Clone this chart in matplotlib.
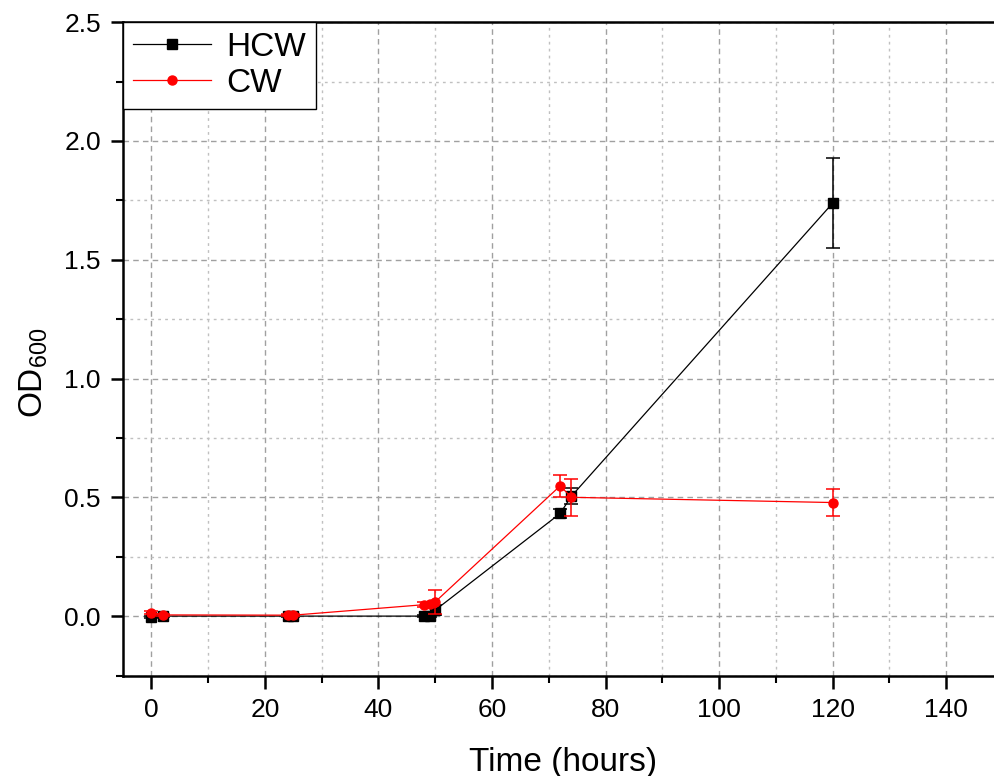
import numpy as np
import matplotlib.pyplot as plt
from matplotlib.ticker import MultipleLocator
from matplotlib.lines import Line2D

plt.rcParams['font.family'] = ['Liberation Sans', 'DejaVu Sans']
plt.rcParams['mathtext.default'] = 'regular'

# dados
t_hcw = [0, 2, 24, 25, 48, 49, 50, 72, 74, 120]
od_hcw = [-0.005, 0.0, 0.0, 0.0, 0.0, 0.0, 0.025, 0.432, 0.505, 1.738]
err_hcw = [0.005, 0.005, 0.005, 0.005, 0.005, 0.005, 0.02, 0.02, 0.035, 0.19]

t_cw = [0, 2, 24, 25, 48, 49, 50, 72, 74, 120]
od_cw = [0.015, 0.005, 0.004, 0.004, 0.048, 0.05, 0.06, 0.548, 0.500, 0.478]
err_cw = [0.005, 0.005, 0.005, 0.005, 0.01, 0.01, 0.05, 0.047, 0.077, 0.055]

fig = plt.figure(figsize=(9.95, 7.76), dpi=100)
# eixo direito fica fora da figura (recorte do original)
ax = fig.add_axes([0.1236, 0.1295, 0.8844, 0.842])

ax.errorbar(t_hcw, od_hcw, yerr=err_hcw, color='black', marker='s', ms=6.5,
            lw=0.9, elinewidth=1.1, capsize=4.7, capthick=1.1, zorder=3)
ax.errorbar(t_cw, od_cw, yerr=err_cw, color='#ff0000', marker='o', ms=6.5,
            lw=0.9, elinewidth=1.1, capsize=4.7, capthick=1.1, zorder=4)

ax.set_xlim(-5, 150)
ax.set_ylim(-0.25, 2.5)
ax.xaxis.set_major_locator(MultipleLocator(20))
ax.xaxis.set_minor_locator(MultipleLocator(10))
ax.yaxis.set_major_locator(MultipleLocator(0.5))
ax.yaxis.set_minor_locator(MultipleLocator(0.25))
ax.yaxis.set_major_formatter(plt.FuncFormatter(lambda v, p: f'{v:.1f}'))

ax.grid(which='major', color='#a0a0a0', ls=(0, (4, 3)), lw=1.0)
ax.grid(which='minor', color='#c0c0c0', ls=(0, (2, 3)), lw=1.0)
ax.set_axisbelow(True)

for s in ax.spines.values():
    s.set_linewidth(1.8)
ax.tick_params(which='major', direction='out', length=9, width=1.8, labelsize=19, pad=7)
ax.tick_params(which='minor', direction='out', length=5, width=1.5)
ax.tick_params(top=False, right=False)

ax.set_xlabel('Time (hours)', fontsize=24, labelpad=18)
ax.set_ylabel('OD$_{600}$', fontsize=24)
ax.yaxis.set_label_coords(-0.083, 0.464)

handles = [Line2D([], [], color='black', marker='s', ms=6.5, lw=0.9),
           Line2D([], [], color='#ff0000', marker='o', ms=6.5, lw=0.9)]
leg = ax.legend(handles, ['HCW', 'CW'], loc='upper left', fontsize=24,
                frameon=True, fancybox=False, borderaxespad=0,
                handlelength=2.35, handletextpad=0.45,
                borderpad=0.3, labelspacing=0.15)
leg.get_frame().set_edgecolor('black')
leg.get_frame().set_linewidth(1.0)
leg.get_frame().set_alpha(1)

fig.savefig('out.png', dpi=100)
